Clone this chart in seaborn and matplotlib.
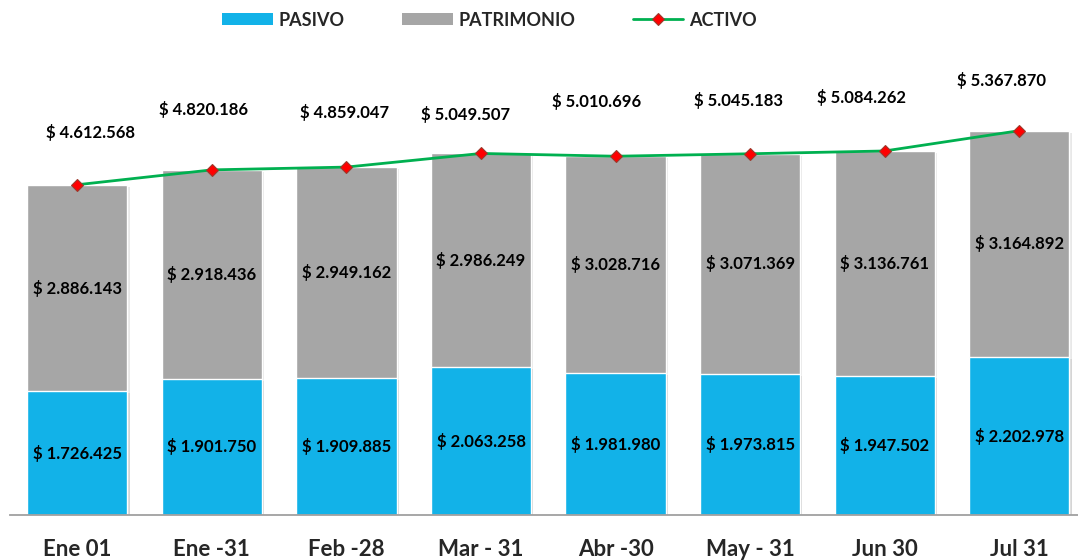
import matplotlib
matplotlib.use("Agg")
import matplotlib.pyplot as plt
import matplotlib.patheffects as pe
from matplotlib.font_manager import FontProperties
from matplotlib.lines import Line2D
from matplotlib.patches import Patch
from matplotlib.ticker import FixedLocator
import numpy as np
import seaborn as sns

# Balance figures per cut-off date
fechas = ["Ene 01", "Ene -31", "Feb -28", "Mar - 31", "Abr -30", "May - 31", "Jun 30", "Jul 31"]
pasivo = [1726425, 1901750, 1909885, 2063258, 1981980, 1973815, 1947502, 2202978]
patrimonio = [2886143, 2918436, 2949162, 2986249, 3028716, 3071369, 3136761, 3164892]
activo = [4612568, 4820186, 4859047, 5049507, 5010696, 5045183, 5084262, 5367870]

# Placement of the ACTIVO value labels relative to each marker (pixels)
activo_label_shift = [(13, 52), (-8, 60), (-2, 55), (-15, 39), (-19, 55), (-12, 53), (-23, 53), (-18, 50)]

AZUL = "#12B2E8"
GRIS = "#A6A6A6"
VERDE = "#00B050"

sns.set_style("white")
plt.rcParams["font.family"] = ["Lato", "DejaVu Sans"]
plt.rcParams["font.weight"] = "bold"


def pesos(v):
    return "$ " + f"{v:,}".replace(",", ".")


fig = plt.figure(figsize=(10.78, 5.60), dpi=100)
# the category axis runs slightly past the right edge of the canvas
ax = fig.add_axes([10 / 1078, 45 / 560, 1076.6 / 1078, 455 / 560])

shadow = [pe.SimplePatchShadow(offset=(1.5, -1.5), shadow_rgbFace="#808080", alpha=0.18), pe.Normal()]

# Gray bar spans the full asset total; the blue liability bar sits over its base
sns.barplot(x=fechas, y=activo, color=GRIS, saturation=1, width=0.745, ax=ax)
sns.barplot(x=fechas, y=pasivo, color=AZUL, saturation=1, width=0.745, ax=ax)
for p in ax.patches:
    p.set_path_effects(shadow)

pos = np.arange(len(fechas))
sns.lineplot(x=pos, y=activo, color=VERDE, linewidth=2.0, marker="D", markersize=6,
             markerfacecolor="#FF0000", markeredgecolor="#9A3B2E", markeredgewidth=0.8,
             legend=False, ax=ax)

# Value labels
for i in pos:
    ax.text(i, pasivo[i] / 2, pesos(pasivo[i]), ha="center", va="center",
            fontsize=12, fontweight="bold", color="black")
    ax.text(i, pasivo[i] + patrimonio[i] / 2, pesos(patrimonio[i]), ha="center", va="center",
            fontsize=12, fontweight="bold", color="black")
    dx, dy = activo_label_shift[i]
    ax.annotate(pesos(activo[i]), (i, activo[i]), xytext=(dx, dy), textcoords="offset pixels",
                ha="center", va="center", fontsize=12, fontweight="bold", color="black")

ax.set_xlim(-0.5, len(fechas) - 0.5)
ax.set_ylim(0, 455 / 71.6 * 1e6)
ax.set_xlabel("")
ax.set_ylabel("")
ax.set_yticks([])

for s in ["top", "right", "left"]:
    ax.spines[s].set_visible(False)
ax.spines["bottom"].set_color("#A0A0A0")
ax.spines["bottom"].set_linewidth(1.3)

ax.set_xticks(pos)
ax.set_xticklabels(fechas, fontsize=16, fontweight="bold")
ax.tick_params(axis="x", which="major", length=0, pad=17)
ax.xaxis.set_minor_locator(FixedLocator(np.arange(-0.5, len(fechas), 1.0)))
ax.tick_params(axis="x", which="minor", length=8, width=1.3, color="#A0A0A0")

handles = [
    Patch(facecolor=AZUL, edgecolor="none", label="PASIVO"),
    Patch(facecolor=GRIS, edgecolor="none", label="PATRIMONIO"),
    Line2D([0], [0], color=VERDE, linewidth=2.0, marker="D", markersize=6,
           markerfacecolor="#FF0000", markeredgecolor="#9A3B2E", markeredgewidth=0.8, label="ACTIVO"),
]
leg_font = FontProperties(family=["Lato", "DejaVu Sans"], size=13, weight="bold")
fig.legend(handles=handles, loc="center", bbox_to_anchor=(0.454, 0.964), ncol=3, frameon=False,
           prop=leg_font, handlelength=2.8, handleheight=0.67,
           handletextpad=0.3, columnspacing=3.2)

fig.savefig("out.png", dpi=100)
